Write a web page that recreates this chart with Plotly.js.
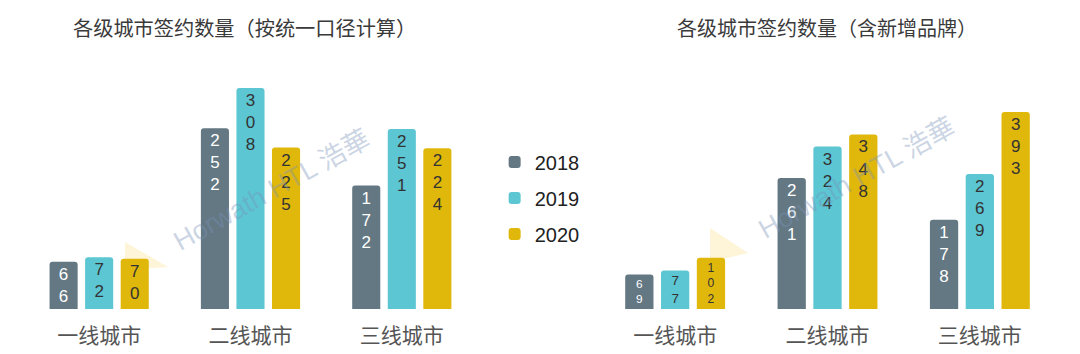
<!DOCTYPE html>
<html>
<head>
<meta charset="utf-8">
<script src="https://cdn.plot.ly/plotly-3.0.1.min.js"></script>
<style>html,body{margin:0;padding:0;background:#fff;}#chart{width:1080px;height:354px;}</style>
</head>
<body>
<div id="chart"></div>
<script>
const categories = ['一线城市', '二线城市', '三线城市'];
const years = ['2018', '2019', '2020'];
// 按统一口径计算
const left2018 = [66, 252, 172];
const left2019 = [72, 308, 251];
const left2020 = [70, 225, 224];
// 含新增品牌
const right2018 = [69, 261, 178];
const right2019 = [77, 324, 269];
const right2020 = [102, 348, 393];
const leftTitle = '各级城市签约数量（按统一口径计算）';
const rightTitle = '各级城市签约数量（含新增品牌）';
const watermark = 'Horwath HTL 浩華';

const colors = ['#647883', '#5cc6d3', '#e0b70b'];
const textColors = ['#ffffff', '#333333', '#333333'];
const font = '"Noto Sans CJK SC", "Noto Sans", sans-serif';

function stacked(v) { return String(v).split('').join('<br>'); }

function makeTrace(vals, i, xa, ya, showLegend) {
  return {
    type: 'bar', x: categories, y: vals, name: years[i],
    xaxis: xa, yaxis: ya, showlegend: showLegend, legendgroup: years[i],
    marker: { color: colors[i], cornerradius: 3 },
    text: vals.map(stacked), textposition: 'inside', insidetextanchor: 'end',
    textangle: 0, constraintext: 'inside',
    textfont: { family: '"Liberation Sans", Arial, sans-serif', size: 17, color: textColors[i] },
    hoverinfo: 'skip'
  };
}

const data = [
  makeTrace(left2018, 0, 'x', 'y', true),
  makeTrace(left2019, 1, 'x', 'y', true),
  makeTrace(left2020, 2, 'x', 'y', true),
  makeTrace(right2018, 0, 'x2', 'y2', false),
  makeTrace(right2019, 1, 'x2', 'y2', false),
  makeTrace(right2020, 2, 'x2', 'y2', false)
];

const xaxisCommon = {
  type: 'category', showline: false, showgrid: false, zeroline: false, ticks: '',
  ticklabelstandoff: 12,
  tickfont: { family: font, size: 21, color: '#555555' }, fixedrange: true
};
const yaxisCommon = { showgrid: false, zeroline: false, showticklabels: false, showline: false, fixedrange: true };

function px(x) { return x / 1080; }
function py(y) { return (309 - y) / 249; }
const logoFill = 'rgba(250,215,110,0.28)';

const layout = {
  width: 1080, height: 354,
  margin: { l: 0, r: 0, t: 60, b: 45 },
  paper_bgcolor: '#ffffff', plot_bgcolor: '#ffffff',
  barmode: 'group', bargap: 0.295, bargroupgap: 0.21,
  font: { family: font },
  xaxis: Object.assign({ domain: [0.02176, 0.4421], anchor: 'y' }, xaxisCommon),
  yaxis: Object.assign({ range: [0, 347], anchor: 'x' }, yaxisCommon),
  xaxis2: Object.assign({ domain: [0.5546, 0.9778], anchor: 'y2' }, xaxisCommon),
  yaxis2: Object.assign({ range: [0, 496.5], anchor: 'x2' }, yaxisCommon),
  showlegend: true,
  legend: {
    x: 0.458, xanchor: 'left', y: 0.446, yanchor: 'middle',
    font: { family: '"Liberation Sans", Arial, sans-serif', size: 20, color: '#222222' },
    traceorder: 'grouped', tracegroupgap: 7, itemwidth: 30, bgcolor: 'rgba(0,0,0,0)'
  },
  shapes: [
    { type: 'path', xref: 'paper', yref: 'paper', layer: 'below', line: { width: 0 }, fillcolor: logoFill,
      path: 'M' + px(125) + ',' + py(242) + ' L' + px(168) + ',' + py(267) + ' L' + px(125) + ',' + py(270) + ' Z' },
    { type: 'path', xref: 'paper', yref: 'paper', layer: 'below', line: { width: 0 }, fillcolor: logoFill,
      path: 'M' + px(710) + ',' + py(228) + ' L' + px(748) + ',' + py(253) + ' L' + px(710) + ',' + py(262) + ' Z' }
  ],
  annotations: [
    { text: leftTitle, xref: 'paper', yref: 'paper', x: 0.226, y: 1.1325, xanchor: 'center', yanchor: 'middle',
      showarrow: false, font: { family: font, size: 20.2, color: '#3a3a3a' } },
    { text: rightTitle, xref: 'paper', yref: 'paper', x: 0.7655, y: 1.1325, xanchor: 'center', yanchor: 'middle',
      showarrow: false, font: { family: font, size: 20, color: '#3a3a3a' } },
    { text: watermark, xref: 'paper', yref: 'paper', x: px(272), y: py(190), xanchor: 'center', yanchor: 'middle',
      textangle: -29, showarrow: false, font: { family: '"Liberation Sans", "Noto Sans CJK SC", sans-serif', size: 27, color: 'rgba(120,145,185,0.38)' } },
    { text: watermark, xref: 'paper', yref: 'paper', x: px(857), y: py(178), xanchor: 'center', yanchor: 'middle',
      textangle: -29, showarrow: false, font: { family: '"Liberation Sans", "Noto Sans CJK SC", sans-serif', size: 27, color: 'rgba(120,145,185,0.38)' } }
  ]
};

Plotly.newPlot('chart', data, layout, { displayModeBar: false, staticPlot: true });
</script>
</body>
</html>
